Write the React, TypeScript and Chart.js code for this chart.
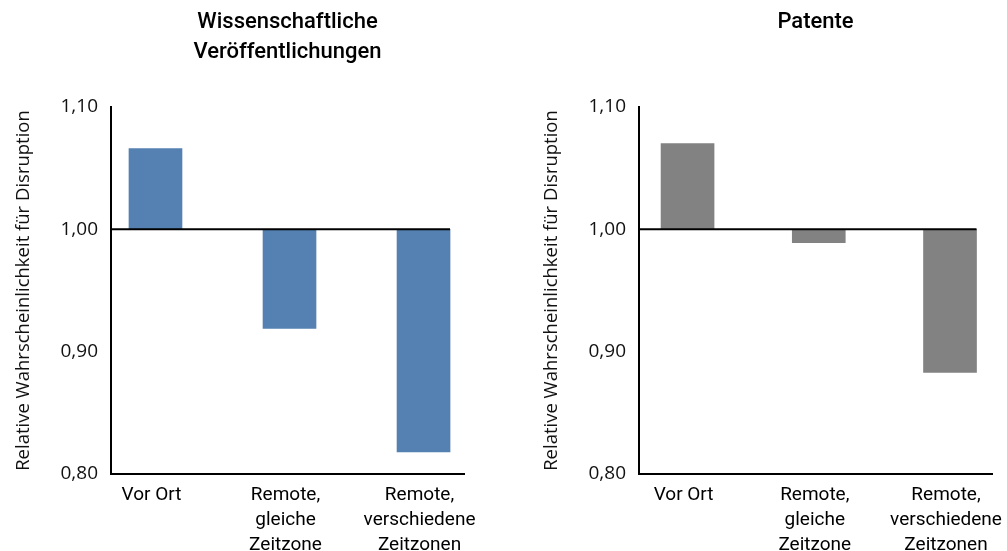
import React, { useEffect, useRef } from "react";
import { Chart, registerables } from "chart.js";

Chart.register(...registerables);

const categories: string[][] = [
  ["Vor Ort"],
  ["Remote,", "gleiche", "Zeitzone"],
  ["Remote,", "verschiedene", "Zeitzonen"],
];
const baseline = 1.0;
const publicationValues = [1.066, 0.919, 0.818];
const patentValues = [1.07, 0.989, 0.883];
const yTicks = [0.8, 0.9, 1.0, 1.1];
const publicationTitle = ["Wissenschaftliche", "Veröffentlichungen"];
const patentTitle = ["Patente"];
const yAxisTitle = "Relative Wahrscheinlichkeit für Disruption";

const CANVAS_H = 551;
const AREA_BOTTOM = 474;
const AREA_TOP = 107;

const baselinePlugin = {
  id: "baselineLine",
  afterDatasetsDraw(chart: any) {
    const { ctx, chartArea } = chart;
    const y = chart.scales.y.getPixelForValue(baseline);
    const meta = chart.getDatasetMeta(0);
    const last = meta.data[meta.data.length - 1] as any;
    const right = last.x + last.width / 2;
    ctx.save();
    ctx.strokeStyle = "#000";
    ctx.lineWidth = 2;
    ctx.beginPath();
    ctx.moveTo(chartArea.left, y);
    ctx.lineTo(right, y);
    ctx.stroke();
    ctx.restore();
  },
};

type PanelProps = {
  left: number;
  width: number;
  padRight: number;
  title: string[];
  values: number[];
  color: string;
  xMin: number;
  xMax: number;
};

function Panel(p: PanelProps) {
  const ref = useRef<HTMLCanvasElement | null>(null);
  useEffect(() => {
    if (!ref.current) return;
    const titleLines = p.title.length;
    const chart = new Chart(ref.current, {
      type: "bar",
      data: {
        datasets: [
          {
            data: p.values.map((v, i) => ({ x: i, y: [baseline, v] })) as any,
            backgroundColor: p.color,
            borderWidth: 0,
            barThickness: 53,
          },
        ],
      },
      options: {
        animation: false,
        responsive: false,
        maintainAspectRatio: false,
        layout: { padding: { left: 0, right: p.padRight, top: 0, bottom: 0 } },
        plugins: {
          legend: { display: false },
          tooltip: { enabled: false },
          title: {
            display: true,
            fullSize: false,
            text: p.title,
            color: "#000",
            font: { family: "Roboto", size: 22, weight: "500", lineHeight: "30px" } as any,
            padding: { top: 7, bottom: AREA_TOP - 7 - 30 * titleLines },
          },
        },
        scales: {
          x: {
            type: "linear",
            offset: false,
            min: p.xMin,
            max: p.xMax,
            afterBuildTicks: (s: any) => {
              s.ticks = categories.map((_, i) => ({ value: i }));
            },
            afterFit: (s: any) => {
              s.height = CANVAS_H - AREA_BOTTOM;
            },
            ticks: {
              autoSkip: false,
              maxRotation: 0,
              minRotation: 0,
              padding: 9,
              labelOffset: -4,
              color: "#000",
              font: { family: "Roboto", size: 19, lineHeight: "25px" } as any,
              callback: (_v: any, i: number) => categories[i],
            },
            grid: { display: false, drawTicks: false, offset: false },
            border: { display: true, color: "#000", width: 2 },
          },
          y: {
            min: 0.8,
            max: 1.1,
            afterBuildTicks: (s: any) => {
              s.ticks = yTicks.map((v) => ({ value: v }));
            },
            afterFit: (s: any) => {
              s.width = 111;
            },
            ticks: {
              padding: 13,
              color: "#111",
              font: { family: "Open Sans", size: 19 },
              callback: (v: any) => Number(v).toFixed(2).replace(".", ","),
            },
            grid: { display: false, drawTicks: false },
            border: { display: true, color: "#000", width: 2 },
            title: {
              display: true,
              text: yAxisTitle,
              color: "#111",
              font: { family: "Open Sans", size: 18.5 },
              padding: { top: 13, bottom: 0 },
            },
          },
        },
      },
      plugins: [baselinePlugin],
    });
    return () => chart.destroy();
  }, []);
  return (
    <canvas
      ref={ref}
      width={p.width}
      height={CANVAS_H}
      style={{ position: "absolute", left: p.left, top: 0, width: p.width, height: CANVAS_H }}
    />
  );
}

export default function App() {
  return (
    <div
      style={{
        position: "absolute",
        left: 0,
        top: 0,
        width: 1007,
        height: 551,
        overflow: "hidden",
        background: "#fff",
      }}
    >
      <Panel
        left={0}
        width={510}
        padRight={46}
        title={publicationTitle}
        values={publicationValues}
        color="#5581B2"
        xMin={-0.332}
        xMax={2.302}
      />
      <Panel
        left={528}
        width={510}
        padRight={46}
        title={patentTitle}
        values={patentValues}
        color="#828282"
        xMin={-0.37}
        xMax={2.32}
      />
    </div>
  );
}
